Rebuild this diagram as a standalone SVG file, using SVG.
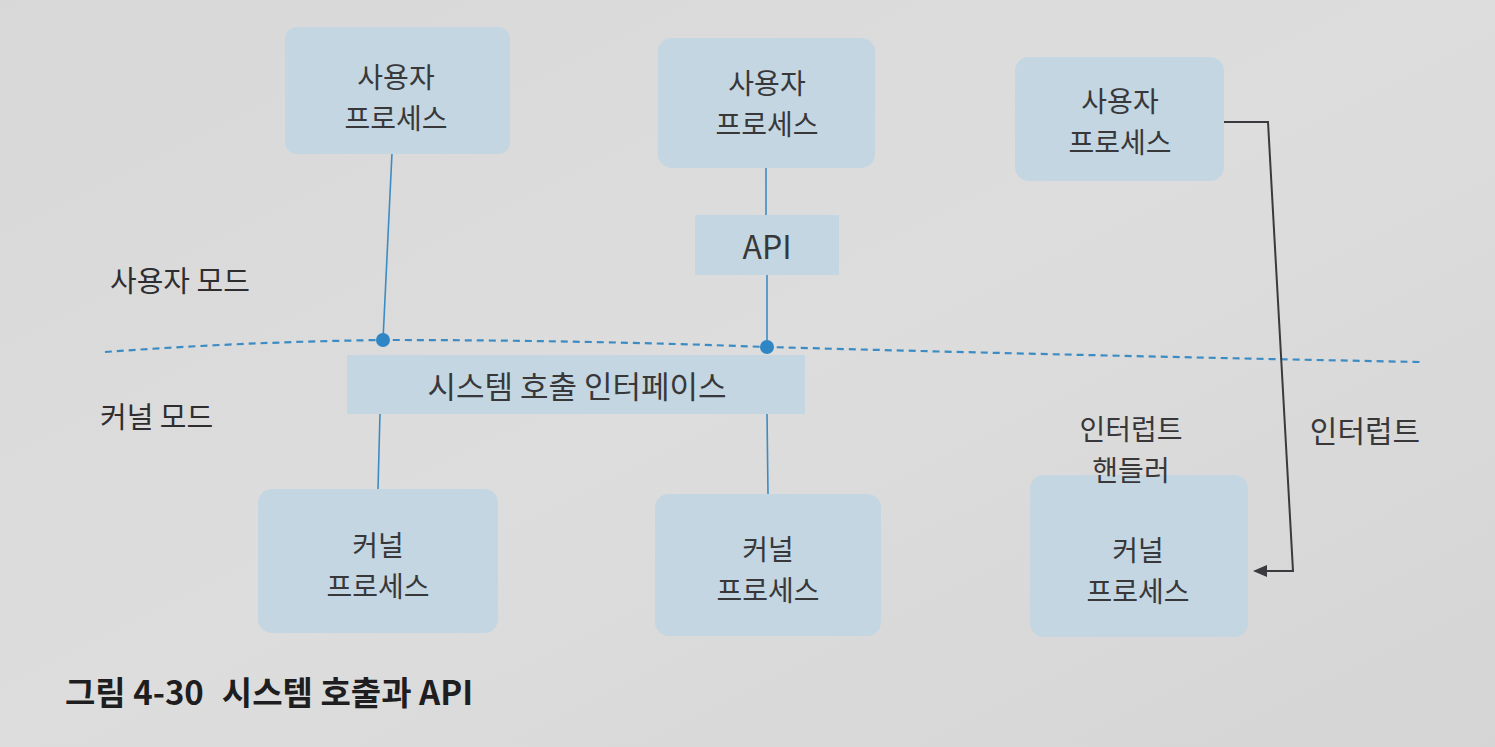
<svg xmlns="http://www.w3.org/2000/svg" width="1495" height="747" viewBox="0 0 1495 747">
<defs>
<linearGradient id="bg" x1="0" y1="0" x2="1" y2="1">
<stop offset="0" stop-color="#d9d8d9"/>
<stop offset="0.5" stop-color="#dedddd"/>
<stop offset="1" stop-color="#d6d5d6"/>
</linearGradient>
<marker id="arr" markerWidth="14" markerHeight="12" refX="12" refY="6" orient="auto" markerUnits="userSpaceOnUse">
<path d="M0,0 L14,6 L0,12 Z" fill="#3a3a3e"/>
</marker>
<style>
.box{fill:#c3d6e1;}
.t{font-family:"Noto Sans CJK KR","Noto Sans",sans-serif;font-size:28px;fill:#38383a;text-anchor:middle;}
.lbl{font-family:"Noto Sans CJK KR","Noto Sans",sans-serif;font-size:29px;fill:#2e2e30;}
.v{stroke:#3b8cc4;stroke-width:1.6;fill:none;}
.dash{stroke:#3b8cc4;stroke-width:2.2;stroke-dasharray:7 5;fill:none;}
.dot{fill:#2f86c5;}
.cap{font-family:"Noto Sans CJK KR","Noto Sans",sans-serif;font-size:33px;font-weight:bold;fill:#1e1e20;}
</style>
</defs>
<rect width="1495" height="747" fill="url(#bg)"/>

<g id="connectors">
<path class="dash" d="M105,352 Q240,342 383,340 Q580,340 767,347 Q1100,356 1420,362"/>
<line class="v" x1="392" y1="153" x2="383" y2="340"/>
<line class="v" x1="380" y1="413" x2="378" y2="489"/>
<line class="v" x1="766" y1="168" x2="766" y2="215"/>
<line class="v" x1="767" y1="275" x2="767" y2="347"/>
<line class="v" x1="767" y1="413" x2="768" y2="494"/>
<circle class="dot" cx="383" cy="340" r="7"/>
<circle class="dot" cx="767" cy="347" r="7"/>
<path d="M1223,122 L1268,122 L1293,571 L1255,571" fill="none" stroke="#3a3a3e" stroke-width="2" marker-end="url(#arr)"/>
<text class="t" x="1365" y="442" style="font-size:30px">인터럽트</text>
</g>

<g id="user1">
<rect class="box" x="285" y="27" width="225" height="127" rx="12"/>
<text class="t" x="396" y="88">사용자</text>
<text class="t" x="396" y="129">프로세스</text>
</g>
<g id="user2">
<rect class="box" x="658" y="38" width="217" height="130" rx="14"/>
<text class="t" x="767" y="94">사용자</text>
<text class="t" x="767" y="135">프로세스</text>
</g>
<g id="user3">
<rect class="box" x="1015" y="57" width="209" height="124" rx="14"/>
<text class="t" x="1120" y="112">사용자</text>
<text class="t" x="1120" y="153">프로세스</text>
</g>
<g id="api">
<rect class="box" x="695" y="215" width="144" height="60"/>
<text class="t" x="767" y="259" style="font-size:32px">API</text>
</g>
<g id="syscall">
<rect class="box" x="347" y="355" width="458" height="59"/>
<text class="t" x="577" y="398" style="font-size:31px">시스템 호출 인터페이스</text>
</g>
<g id="kernel1">
<rect class="box" x="258" y="489" width="240" height="144" rx="14"/>
<text class="t" x="378" y="556">커널</text>
<text class="t" x="378" y="597">프로세스</text>
</g>
<g id="kernel2">
<rect class="box" x="655" y="494" width="226" height="142" rx="14"/>
<text class="t" x="768" y="560">커널</text>
<text class="t" x="768" y="601">프로세스</text>
</g>
<g id="kernel3">
<rect class="box" x="1030" y="475" width="218" height="162" rx="14"/>
<text class="t" x="1138" y="561">커널</text>
<text class="t" x="1138" y="602">프로세스</text>
</g>
<g id="handler">
<text class="t" x="1131" y="440">인터럽트</text>
<text class="t" x="1131" y="481">핸들러</text>
</g>

<text class="lbl" x="110" y="292">사용자 모드</text>
<text class="lbl" x="100" y="428">커널 모드</text>
<text class="cap" x="65" y="705">그림 4-30<tspan dx="18">시스템 호출과 API</tspan></text>
</svg>
